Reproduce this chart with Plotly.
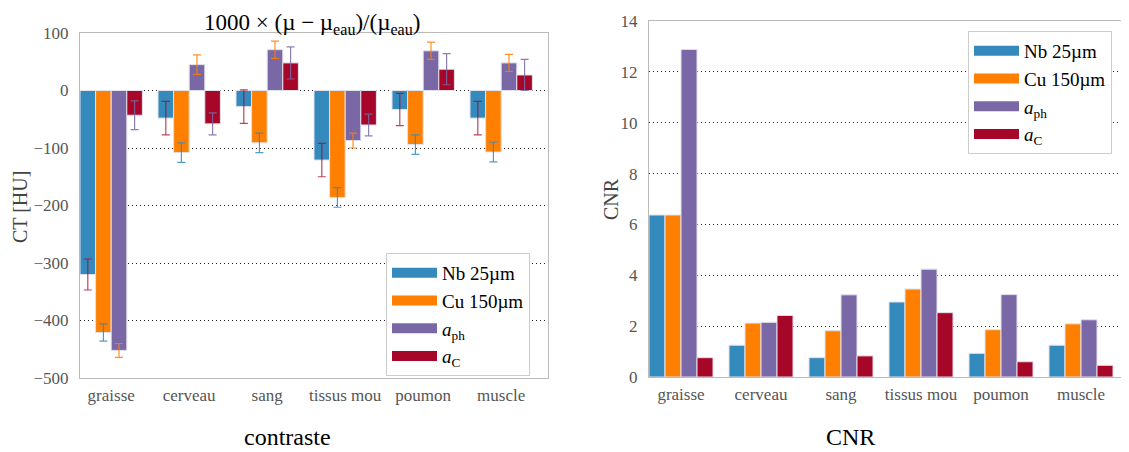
import plotly.graph_objects as go

categories = ["graisse", "cerveau", "sang", "tissus mou", "poumon", "muscle"]
series_names = ["Nb 25µm", "Cu 150µm", "<i>a</i><sub>ph</sub>", "<i>a</i><sub>C</sub>"]
colors = ["#348ABD", "#FF7F00", "#7A68A6", "#A60628"]
err_colors = ["rgba(166,6,40,0.75)", "rgba(52,138,189,0.85)", "rgba(255,127,0,0.85)", "rgba(122,104,166,0.85)"]

ct_nb = [-320, -48, -28, -121, -33, -48]
ct_cu = [-421, -108, -91, -186, -94, -107]
ct_aph = [-452, 45, 71, -87, 69, 48]
ct_ac = [-43, -58, 48, -60, 37, 27]
err_nb = [27, 29, 29, 29, 28, 29]
err_cu = [15, 17, 17, 17, 17, 17]
err_aph = [12, 17, 15, 13, 15, 15]
err_ac = [25, 19, 28, 19, 27, 27]

cnr_nb = [6.37, 1.25, 0.76, 2.95, 0.93, 1.25]
cnr_cu = [6.37, 2.12, 1.82, 3.46, 1.86, 2.09]
cnr_aph = [12.88, 2.15, 3.23, 4.24, 3.24, 2.25]
cnr_ac = [0.76, 2.42, 0.83, 2.53, 0.60, 0.46]

ct_values = [ct_nb, ct_cu, ct_aph, ct_ac]
ct_errors = [err_nb, err_cu, err_aph, err_ac]
cnr_values = [cnr_nb, cnr_cu, cnr_aph, cnr_ac]

FONT = "Liberation Serif"
OFF = 8  # page body margin
W, H = 1129 - OFF, 452 - OFF

fig = go.Figure()
xidx = list(range(len(categories)))

for i in range(4):
    fig.add_trace(go.Bar(
        x=xidx, y=ct_values[i], name=series_names[i],
        marker=dict(color=colors[i], line=dict(color="rgba(225,225,235,1)", width=1)),
        error_y=dict(type="data", array=ct_errors[i], color=err_colors[i], thickness=1.2, width=4),
        xaxis="x", yaxis="y", showlegend=False, legendgroup="g%d" % i,
    ))
    fig.add_trace(go.Scatter(
        x=[None], y=[None], mode="lines", name=series_names[i],
        line=dict(color=colors[i], width=12), xaxis="x", yaxis="y",
        legend="legend", legendgroup="g%d" % i, showlegend=True,
    ))

for i in range(4):
    fig.add_trace(go.Bar(
        x=xidx, y=cnr_values[i], name=series_names[i],
        marker=dict(color=colors[i], line=dict(color="rgba(225,225,235,1)", width=1)),
        xaxis="x2", yaxis="y2", showlegend=False, legendgroup="h%d" % i,
    ))
    fig.add_trace(go.Scatter(
        x=[None], y=[None], mode="lines", name=series_names[i],
        line=dict(color=colors[i], width=12), xaxis="x2", yaxis="y2",
        legend="legend2", legendgroup="h%d" % i, showlegend=True,
    ))

def px_x(p):
    return (p - OFF) / W

def px_y(p):
    return 1 - (p - OFF) / H

tickfont = dict(family=FONT, size=17, color="#555555")
axis_line = "#BBBBBB"
GRID_DASH = "1px,3px"

legend_common = dict(
    xanchor="left", yanchor="top", bgcolor="white",
    bordercolor="#CCCCCC", borderwidth=1,
    font=dict(family=FONT, size=19, color="black"),
    itemwidth=45, tracegroupgap=0,
)

fig.update_layout(
    width=W, height=H,
    margin=dict(l=0, r=0, t=0, b=0, autoexpand=False),
    paper_bgcolor="white", plot_bgcolor="white",
    barmode="group", bargap=0.2, bargroupgap=0,
    font=dict(family=FONT),
    xaxis=dict(
        domain=[px_x(80), px_x(548)], range=[-0.4, 5.6], automargin=False,
        tickmode="array", tickvals=xidx, ticktext=categories,
        tickfont=tickfont, showgrid=False, zeroline=False,
        showline=True, linecolor=axis_line, linewidth=1, mirror=True,
        ticks="", ticklabelstandoff=2, anchor="y",
    ),
    yaxis=dict(
        domain=[px_y(378), px_y(33)], range=[-500, 100], automargin=False,
        tickvals=[-500, -400, -300, -200, -100, 0, 100],
        tickfont=tickfont, showgrid=True, gridcolor="#222222", griddash=GRID_DASH, gridwidth=1,
        zeroline=False, showline=True, linecolor=axis_line, linewidth=1, mirror=True,
        ticks="", ticklabelstandoff=7, anchor="x",
    ),
    xaxis2=dict(
        domain=[px_x(649), 1.0], range=[-0.4, 5.6], automargin=False,
        tickmode="array", tickvals=xidx, ticktext=categories,
        tickfont=tickfont, showgrid=False, zeroline=False,
        showline=True, linecolor=axis_line, linewidth=1, mirror=True,
        ticks="", ticklabelstandoff=2, anchor="y2",
    ),
    yaxis2=dict(
        domain=[px_y(377), px_y(21)], range=[0, 14], automargin=False,
        tickvals=[0, 2, 4, 6, 8, 10, 12, 14],
        tickfont=tickfont, showgrid=True, gridcolor="#222222", griddash=GRID_DASH, gridwidth=1,
        zeroline=False, showline=True, linecolor=axis_line, linewidth=1, mirror=False,
        ticks="", ticklabelstandoff=7, anchor="x2",
    ),
    legend=dict(x=px_x(386), y=px_y(253), **legend_common),
    legend2=dict(x=px_x(968), y=px_y(31), **legend_common),
    annotations=[
        dict(text="1000 × (µ − µ<sub>eau</sub>)/(µ<sub>eau</sub>)", x=px_x(312), y=1.0,
             xref="paper", yref="paper", showarrow=False, xanchor="center", yanchor="top",
             font=dict(family=FONT, size=23, color="black")),
        dict(text="CT [HU]", x=px_x(20), y=px_y(207), textangle=-90,
             xref="paper", yref="paper", showarrow=False, xanchor="center", yanchor="middle",
             font=dict(family=FONT, size=20, color="#444444")),
        dict(text="CNR", x=px_x(611), y=px_y(199), textangle=-90,
             xref="paper", yref="paper", showarrow=False, xanchor="center", yanchor="middle",
             font=dict(family=FONT, size=20, color="#444444")),
        dict(text="contraste", x=px_x(287), y=px_y(437),
             xref="paper", yref="paper", showarrow=False, xanchor="center", yanchor="middle",
             font=dict(family=FONT, size=24, color="black")),
        dict(text="CNR", x=px_x(850), y=px_y(437),
             xref="paper", yref="paper", showarrow=False, xanchor="center", yanchor="middle",
             font=dict(family=FONT, size=24, color="black")),
    ],
)

fig.write_html("out.html")
